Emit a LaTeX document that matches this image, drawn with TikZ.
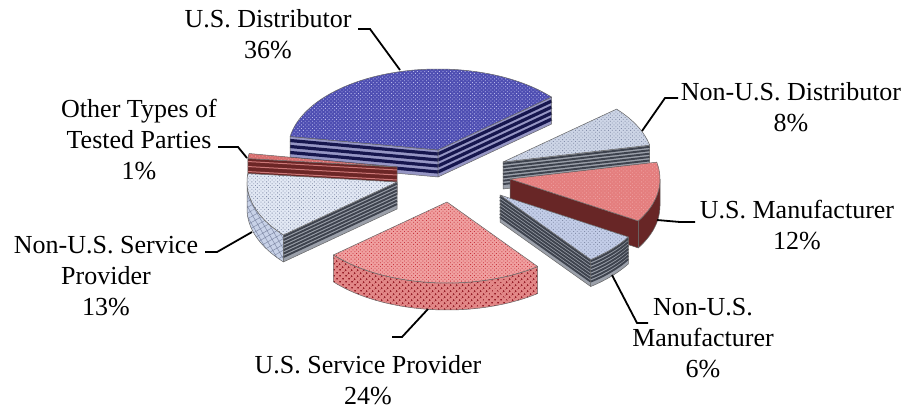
\documentclass[tikz,border=0pt]{standalone}
\usepackage{fontspec}
\setmainfont{Liberation Serif}
\usetikzlibrary{calc,patterns.meta}

\definecolor{blueTop}{RGB}{78,78,178}
\definecolor{blueDots}{RGB}{185,185,235}
\definecolor{blueDark}{RGB}{22,22,78}
\definecolor{blueLight}{RGB}{150,150,196}
\definecolor{grayDark}{RGB}{62,67,78}
\definecolor{grayLight}{RGB}{155,160,170}
\definecolor{paleTop}{RGB}{205,213,230}
\definecolor{paleDots}{RGB}{130,140,168}
\definecolor{nsvcTop}{RGB}{226,232,244}
\definecolor{nsvcSide}{RGB}{200,210,232}
\definecolor{nmfgTop}{RGB}{195,205,232}
\definecolor{mfgTop}{RGB}{228,126,126}
\definecolor{mfgDots}{RGB}{240,160,160}
\definecolor{mfgSide}{RGB}{104,38,38}
\definecolor{svcTop}{RGB}{240,160,160}
\definecolor{svcDots}{RGB}{200,50,60}
\definecolor{svcSide}{RGB}{226,135,135}
\definecolor{svcDark}{RGB}{150,30,40}
\definecolor{otherDark}{RGB}{108,38,38}
\definecolor{otherLight}{RGB}{205,120,120}
\definecolor{otherTop}{RGB}{215,110,110}

% faces of one exploded slice: apex, angle(s), style
\newcommand{\cutface}[3]{%
  \path[#3] (#1) -- ++(#2:150 and 81) -- ++(0,-27) -- ($(#1)+(0,-27)$) -- cycle;}
\newcommand{\cutstripes}[4]{%
  \foreach \k in {#4}
    \draw[#3] ($(#1)+(0,-\k)$) -- ++(#2:150 and 81);}
\newcommand{\rimface}[4]{%
  \path[#4] ($(#1)+(#2:150 and 81)$) arc[start angle=#2,end angle=#3,x radius=150,y radius=81]
    -- ++(0,-27) arc[start angle=#3,end angle=#2,x radius=150,y radius=81] -- cycle;}
\newcommand{\rimstripes}[5]{%
  \foreach \k in {#5}
    \draw[#4] ($(#1)+(#2:150 and 81)+(0,-\k)$) arc[start angle=#2,end angle=#3,x radius=150,y radius=81];}
\newcommand{\topface}[4]{%
  \path[#4] (#1) -- ($(#1)+(#2:150 and 81)$) arc[start angle=#2,end angle=#3,x radius=150,y radius=81] -- cycle;}

\begin{document}
\begin{tikzpicture}[x=1pt,y=1pt,
    rim/.style={draw=black!60,line width=0.5pt,line join=round},
    topfill/.style 2 args={fill=#1,postaction={pattern={Dots[radius=0.6pt,distance=2.6pt,angle=45]},pattern color=#2},postaction={rim}},
    checkfill/.style 2 args={fill=#1,postaction={pattern={Dots[radius=1.1pt,distance=4pt,angle=45]},pattern color=#2},postaction={rim}},
    hatchfill/.style 2 args={fill=#1,postaction={pattern={Hatch[distance=5pt,angle=30,line width=0.5pt]},pattern color=#2},postaction={rim}},
    leader/.style={draw=black,line width=1.8pt},
    lbl/.style={align=center,inner sep=0pt,anchor=base,font=\fontsize{26}{31}\selectfont}]
  \useasboundingbox (0,0) rectangle (907,408);

  \coordinate (dA) at (438,258);
  \coordinate (oA) at (397,241);
  \coordinate (ndA) at (503,246);
  \coordinate (nsA) at (397,226);
  \coordinate (mA) at (510,229);
  \coordinate (nmA) at (500,213);
  \coordinate (sA) at (447,206);

  % U.S. Distributor
  \cutface{dA}{170.4}{fill=blueLight}
  \cutstripes{dA}{170.4}{blueDark,line width=3.2pt}{4,10,16,22}
  \cutface{dA}{170.4}{rim}
  \cutface{dA}{40.8}{fill=blueLight}
  \cutstripes{dA}{40.8}{blueDark,line width=3.2pt}{4,10,16,22}
  \cutface{dA}{40.8}{rim}
  \topface{dA}{40.8}{170.4}{topfill={blueTop}{blueDots}}

  % Other Types of Tested Parties
  \cutface{oA}{174}{fill=otherDark}
  \cutstripes{oA}{174}{otherLight,line width=1pt}{3,8,13,18,23}
  \cutface{oA}{174}{rim}
  \topface{oA}{170.4}{174}{topfill={otherTop}{mfgDots}}

  % Non-U.S. Distributor
  \cutface{ndA}{12}{fill=grayLight}
  \cutstripes{ndA}{12}{grayDark,line width=1.9pt}{1.7,5.1,...,25.5}
  \cutface{ndA}{12}{rim}
  \topface{ndA}{12}{40.8}{topfill={paleTop}{paleDots}}

  % Non-U.S. Service Provider
  \rimface{nsA}{180}{220.8}{hatchfill={nsvcSide}{paleDots}}
  \cutface{nsA}{220.8}{fill=grayLight}
  \cutstripes{nsA}{220.8}{grayDark,line width=1.9pt}{1.7,5.1,...,25.5}
  \cutface{nsA}{220.8}{rim}
  \topface{nsA}{174}{220.8}{topfill={nsvcTop}{paleDots}}

  % U.S. Manufacturer
  \rimface{mA}{-31.2}{0}{fill=mfgSide,postaction={rim}}
  \cutface{mA}{-31.2}{fill=mfgSide,postaction={rim}}
  \topface{mA}{-31.2}{12}{topfill={mfgTop}{mfgDots}}

  % Non-U.S. Manufacturer
  \rimface{nmA}{-52.8}{-31.2}{fill=grayLight}
  \rimstripes{nmA}{-52.8}{-31.2}{grayDark,line width=1.9pt}{1.7,5.1,...,25.5}
  \rimface{nmA}{-52.8}{-31.2}{rim}
  \cutface{nmA}{-52.8}{fill=grayLight}
  \cutstripes{nmA}{-52.8}{grayDark,line width=1.9pt}{1.7,5.1,...,25.5}
  \cutface{nmA}{-52.8}{rim}
  \topface{nmA}{-52.8}{-31.2}{topfill={nmfgTop}{paleDots}}

  % U.S. Service Provider
  \rimface{sA}{-139.2}{-52.8}{checkfill={svcSide}{svcDark}}
  \topface{sA}{-139.2}{-52.8}{topfill={svcTop}{svcDots}}

  % labels (anchored at the baseline of the last line)
  \node[lbl] (dist) at (268,349) {U.S. Distributor\\36\%};
  \node[lbl] (ndist) at (791,277) {Non-U.S. Distributor\\8\%};
  \node[lbl] (mfg) at (797,159) {U.S. Manufacturer\\12\%};
  \node[lbl] (nmfg) at (703,31) {Non-U.S.\\Manufacturer\\6\%};
  \node[lbl] (svc) at (368,4) {U.S. Service Provider\\24\%};
  \node[lbl] (nsvc) at (106,93) {Non-U.S. Service\\Provider\\13\%};
  \node[lbl] (other) at (139,229) {Other Types of\\Tested Parties\\1\%};

  % leader lines
  \coordinate (distP) at (400,338);  \coordinate (distK) at (370,379);  \coordinate (distE) at (358,379);
  \coordinate (ndistP) at (642,277); \coordinate (ndistK) at (665,310); \coordinate (ndistE) at (678,310);
  \coordinate (mfgP) at (657,188);   \coordinate (mfgK) at (680,186);   \coordinate (mfgE) at (695,186);
  \coordinate (nmfgP) at (612,133);  \coordinate (nmfgK) at (637,85);   \coordinate (nmfgE) at (648,85);
  \coordinate (svcP) at (428,99);    \coordinate (svcK) at (402,71);    \coordinate (svcE) at (392,71);
  \coordinate (nsvcP) at (252,176);  \coordinate (nsvcK) at (217,156);  \coordinate (nsvcE) at (205,156);
  \coordinate (otherP) at (247,250); \coordinate (otherK) at (238,261); \coordinate (otherE) at (218,261);
  \foreach \s in {dist,ndist,mfg,nmfg,svc,nsvc,other}
    \draw[leader] (\s P) -- (\s K) -- (\s E);
\end{tikzpicture}
\end{document}
